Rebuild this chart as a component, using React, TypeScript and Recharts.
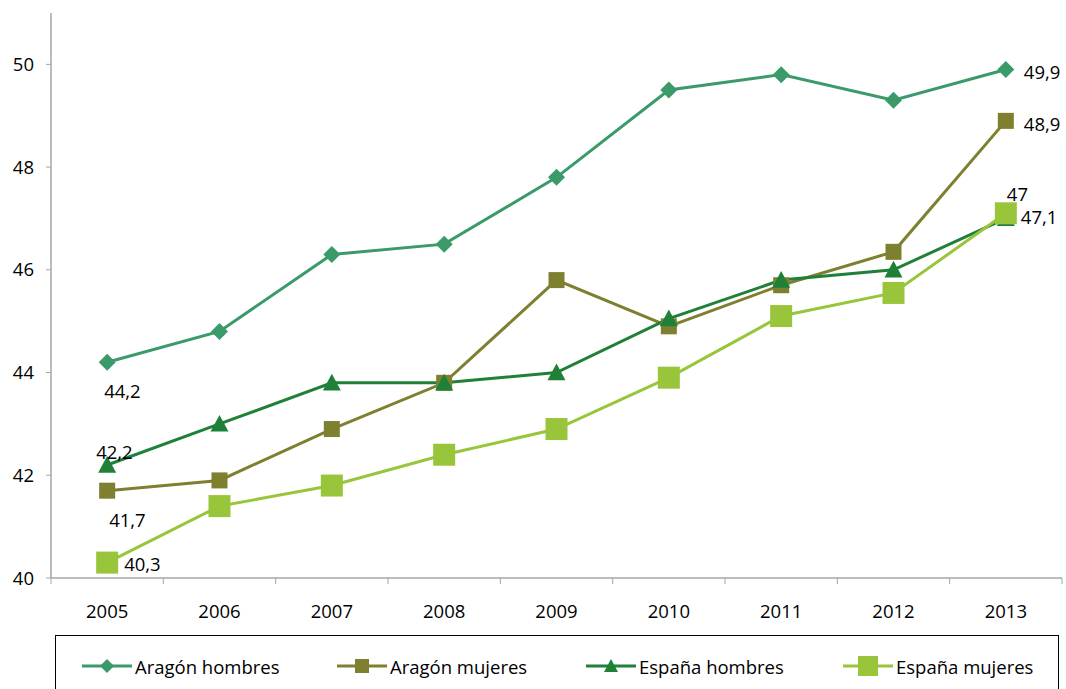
import React from "react";
import { LabelList, Line, LineChart, XAxis, YAxis } from "recharts";

// categories and series
const years = ["2005", "2006", "2007", "2008", "2009", "2010", "2011", "2012", "2013"];
const aragonHombres = [44.2, 44.8, 46.3, 46.5, 47.8, 49.5, 49.8, 49.3, 49.9];
const aragonMujeres = [41.7, 41.9, 42.9, 43.8, 45.8, 44.9, 45.7, 46.35, 48.9];
const espanaHombres = [42.2, 43.0, 43.8, 43.8, 44.0, 45.05, 45.8, 46.0, 47.0];
const espanaMujeres = [40.3, 41.4, 41.8, 42.4, 42.9, 43.9, 45.1, 45.55, 47.1];
const yTicks = [40, 42, 44, 46, 48, 50];

const FONT = "'Open Sans', 'Noto Sans', sans-serif";

type Shape = "diamond" | "square" | "triangle";

type SeriesDef = {
  key: string;
  name: string;
  color: string;
  shape: Shape;
  size: number;
  // label offsets for first and last point
  first: [number, number];
  last: [number, number];
};

const series: SeriesDef[] = [
  { key: "ah", name: "Aragón hombres", color: "#3a9a69", shape: "diamond", size: 8.5, first: [-3, 28], last: [18, 2] },
  { key: "am", name: "Aragón mujeres", color: "#7f7f30", shape: "square", size: 8, first: [2, 29], last: [18, 3] },
  { key: "eh", name: "España hombres", color: "#1f8038", shape: "triangle", size: 9, first: [-11, -14], last: [1, -25] },
  { key: "em", name: "España mujeres", color: "#98c53a", shape: "square", size: 11, first: [17, 1], last: [15, 3] },
];

const data = years.map((y, i) => ({
  year: y,
  ah: aragonHombres[i],
  am: aragonMujeres[i],
  eh: espanaHombres[i],
  em: espanaMujeres[i],
}));

function Marker({ cx, cy, shape, size, color }: { cx: number; cy: number; shape: Shape; size: number; color: string }) {
  if (shape === "diamond") {
    const p = `${cx},${cy - size} ${cx + size},${cy} ${cx},${cy + size} ${cx - size},${cy}`;
    return <polygon points={p} fill={color} />;
  }
  if (shape === "triangle") {
    const p = `${cx},${cy - size} ${cx + size},${cy + size * 0.85} ${cx - size},${cy + size * 0.85}`;
    return <polygon points={p} fill={color} />;
  }
  return <rect x={cx - size} y={cy - size} width={size * 2} height={size * 2} fill={color} />;
}

function makeDot(s: SeriesDef) {
  return (props: any) => {
    const { cx, cy, index } = props;
    if (cx == null || cy == null) return <g key={index} />;
    return (
      <g key={`${s.key}-${index}`}>
        <Marker cx={cx} cy={cy} shape={s.shape} size={s.size} color={s.color} />
      </g>
    );
  };
}

function makeLabel(s: SeriesDef) {
  return (props: any) => {
    const { x, y, value, index } = props;
    if (index !== 0 && index !== years.length - 1) return null;
    const [dx, dy] = index === 0 ? s.first : s.last;
    return (
      <text
        x={x + dx}
        y={y + dy}
        textAnchor="start"
        dominantBaseline="central"
        fontFamily={FONT}
        fontSize={18.5}
        fill="#000"
      >
        {String(value).replace(".", ",")}
      </text>
    );
  };
}

function XTick(props: any) {
  const { x, y, payload, index } = props;
  const half = payload?.offset ?? 0;
  const axisY = y - 8;
  return (
    <g>
      <line x1={x - half} x2={x - half} y1={axisY} y2={axisY + 6} stroke="#a6a6a6" />
      {index === years.length - 1 && (
        <line x1={x + half} x2={x + half} y1={axisY} y2={axisY + 6} stroke="#a6a6a6" />
      )}
      <text x={x} y={axisY + 32} textAnchor="middle" dominantBaseline="central" fontFamily={FONT} fontSize={18.5} fill="#000">
        {payload.value}
      </text>
    </g>
  );
}

function Legend() {
  return (
    <div
      style={{
        position: "absolute",
        left: 55,
        top: 635,
        width: 1004,
        height: 60,
        border: "1.5px solid #000",
        boxSizing: "border-box",
        fontFamily: FONT,
        fontSize: 18.5,
      }}
    >
      {series.map((s, i) => {
        const left = [25, 280, 529, 786][i];
        return (
          <div key={s.key} style={{ position: "absolute", left, top: 17, display: "flex", alignItems: "center" }}>
            <svg width={52} height={26}>
              <line x1={1} x2={51} y1={13} y2={13} stroke={s.color} strokeWidth={3} />
              <Marker cx={26} cy={13} shape={s.shape} size={s.shape === "square" && s.size > 10 ? 10 : 7} color={s.color} />
            </svg>
            <span style={{ marginLeft: 2, color: "#000" }}>{s.name}</span>
          </div>
        );
      })}
    </div>
  );
}

export default function App() {
  return (
    <div style={{ position: "absolute", left: 0, top: 0, width: 1066, height: 689, background: "#fff" }}>
      <LineChart width={1066} height={689} data={data} margin={{ top: 13, right: 4, left: 11, bottom: 81 }}>
        <XAxis
          dataKey="year"
          scale="band"
          height={30}
          axisLine={{ stroke: "#a6a6a6", strokeWidth: 1.5 }}
          tickLine={false}
          tick={<XTick />}
          interval={0}
        />
        <YAxis
          domain={[40, 51]}
          ticks={yTicks}
          width={40}
          axisLine={{ stroke: "#a6a6a6", strokeWidth: 1.5 }}
          tickLine={{ stroke: "#a6a6a6" }}
          tickSize={5}
          tickMargin={12}
          tick={{ fontFamily: FONT, fontSize: 18.5, fill: "#000" }}
          allowDataOverflow
        />
        {series.map((s) => (
          <Line
            key={s.key}
            dataKey={s.key}
            name={s.name}
            type="linear"
            stroke={s.color}
            strokeWidth={3}
            dot={makeDot(s)}
            activeDot={false}
            isAnimationActive={false}
          >
            <LabelList dataKey={s.key} content={makeLabel(s)} />
          </Line>
        ))}
      </LineChart>
      <Legend />
    </div>
  );
}
